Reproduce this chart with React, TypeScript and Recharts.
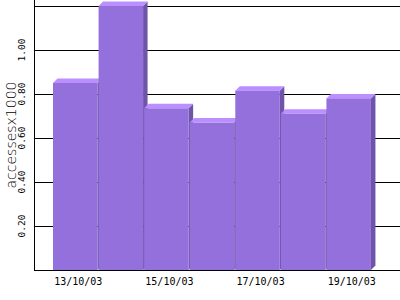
import React from 'react';
import { BarChart, Bar, XAxis, YAxis, CartesianGrid } from 'recharts';

const dates = ['13/10/03', '14/10/03', '15/10/03', '16/10/03', '17/10/03', '18/10/03', '19/10/03'];
const accesses = [0.85, 1.2, 0.735, 0.67, 0.815, 0.71, 0.78];
const yTicks = [0, 0.1, 0.2, 0.3, 0.4, 0.5, 0.6, 0.7, 0.8, 0.9, 1.0, 1.1, 1.2];
const labelledTicks = [0.2, 0.4, 0.6, 0.8, 1.0];

const data = dates.map((d, i) => ({ date: d, value: accesses[i] }));

const FRONT = '#9370DB';
const TOP = '#BB8FFF';
const SIDE = '#6F55A8';
const D = 4.5;

const Bar3D = (props: any) => {
  const { x, y, width, height } = props;
  const w = width - 1.5;
  const bottom = y + height;
  return (
    <g>
      <polygon
        points={`${x + w},${y} ${x + w + D},${y - D} ${x + w + D},${bottom - D} ${x + w},${bottom}`}
        fill={SIDE}
      />
      <polygon
        points={`${x},${y} ${x + D},${y - D} ${x + w + D},${y - D} ${x + w},${y}`}
        fill={TOP}
      />
      <rect x={x} y={y} width={w} height={height} fill={FRONT} />
    </g>
  );
};

const XTick = (props: any) => {
  const { x, y, payload } = props;
  return (
    <text x={x + 2.5} y={y} dy={7} textAnchor="middle" fontFamily="DejaVu Sans Mono" fontSize={10} fill="#000">
      {payload.value}
    </text>
  );
};

const YTick = (props: any) => {
  const { y, payload } = props;
  const v = Number(payload.value);
  if (!labelledTicks.some((t) => Math.abs(t - v) < 1e-6)) return null;
  const cx = 22;
  return (
    <text
      x={cx}
      y={y}
      transform={`rotate(-90 ${cx} ${y})`}
      textAnchor="middle"
      dominantBaseline="central"
      fontFamily="DejaVu Sans Mono"
      fontSize={9.5}
      fill="#000"
    >
      {v.toFixed(2)}
    </text>
  );
};

export default function App() {
  return (
    <div style={{ position: 'absolute', left: 0, top: 0, width: 400, height: 300, background: '#fff' }}>
      <style>{`.recharts-cartesian-grid line, .recharts-cartesian-axis-line { shape-rendering: crispEdges; }`}</style>
      <BarChart
        width={400}
        height={300}
        data={data}
        margin={{ top: 0, right: 0, bottom: 0, left: 0 }}
        barCategoryGap={0}
      >
        <CartesianGrid vertical={false} stroke="#000" strokeWidth={1} horizontalValues={yTicks} />
        <XAxis
          dataKey="date"
          height={30}
          interval={1}
          tickLine={false}
          axisLine={{ stroke: '#000' }}
          padding={{ left: 19, right: 28 }}
          tick={<XTick />}
        />
        <YAxis
          width={34}
          domain={[0, 1.2273]}
          ticks={yTicks}
          tickLine={false}
          axisLine={{ stroke: '#000' }}
          tick={<YTick />}
          label={{
            value: 'accessesx1000',
            angle: -90,
            position: 'insideLeft',
            style: { textAnchor: 'middle', fontFamily: 'DejaVu Sans', fontWeight: 200, fontSize: 14, fill: '#000' },
            dx: 6,
          }}
        />
        <Bar dataKey="value" shape={<Bar3D />} isAnimationActive={false} />
      </BarChart>
    </div>
  );
}
